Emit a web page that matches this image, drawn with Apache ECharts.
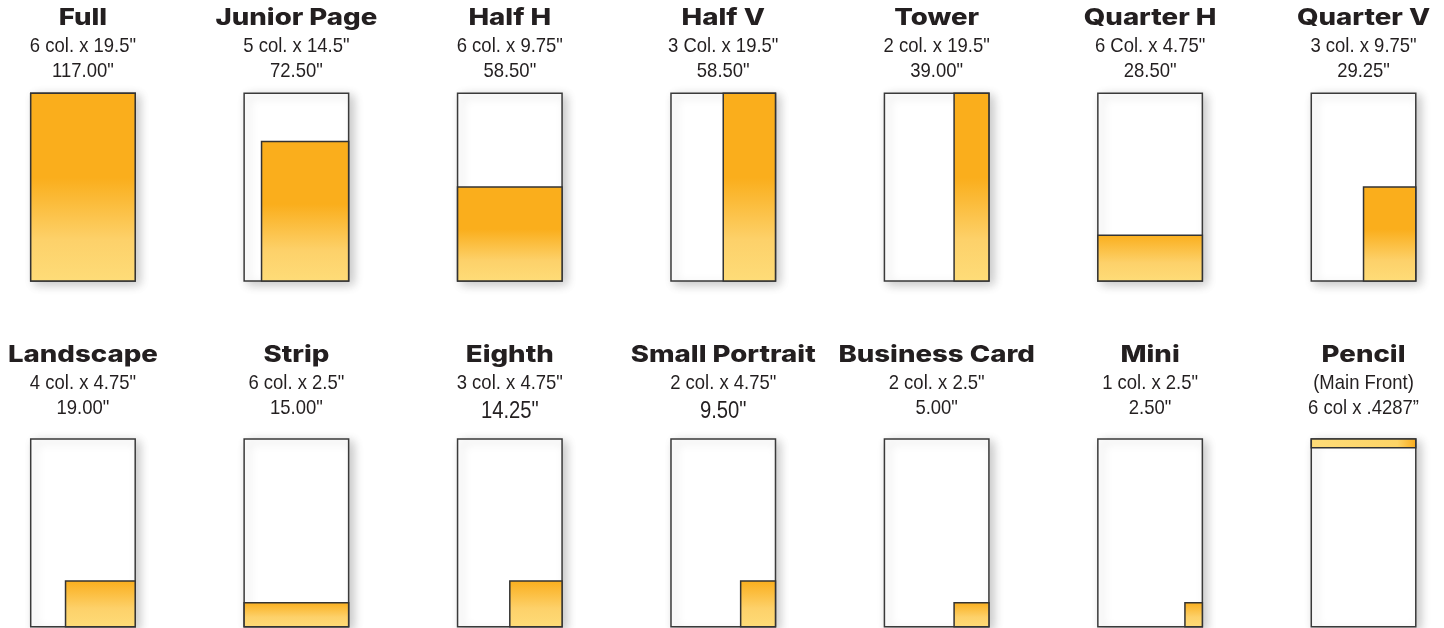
<!DOCTYPE html>
<html>
<head>
<meta charset="utf-8">
<script src="https://cdn.jsdelivr.net/npm/echarts@6/dist/echarts.min.js"></script>
<style>
  html, body { margin: 0; padding: 0; background: #fff; }
  #main { width: 1444px; height: 628px; }
</style>
</head>
<body>
<div id="main"></div>
<script>
'use strict';

// ad sizes
const names = ['Full', 'Junior Page', 'Half H', 'Half V', 'Tower', 'Quarter H', 'Quarter V',
  'Landscape', 'Strip', 'Eighth', 'Small Portrait', 'Business Card', 'Mini', 'Pencil'];
const sizeLines = ['6 col. x 19.5"', '5 col. x 14.5"', '6 col. x 9.75"', '3 Col. x 19.5"', '2 col. x 19.5"',
  '6 Col. x 4.75"', '3 col. x 9.75"', '4 col. x 4.75"', '6 col. x 2.5"', '3 col. x 4.75"',
  '2 col. x 4.75"', '2 col. x 2.5"', '1 col. x 2.5"', '(Main Front)'];
const totalLines = ['117.00"', '72.50"', '58.50"', '58.50"', '39.00"', '28.50"', '29.25"',
  '19.00"', '15.00"', '14.25"', '9.50"', '5.00"', '2.50"', '6 col x .4287\u201d'];
const cols = [6, 5, 6, 3, 2, 6, 3, 4, 6, 3, 2, 2, 1, 6];
// drawn depth in inches (pencil is drawn thicker than its .4287" so it shows)
const inches = [19.5, 14.5, 9.75, 19.5, 19.5, 4.75, 9.75, 4.75, 2.5, 4.75, 4.75, 2.5, 2.5, 0.9];
const anchors = ['bottom', 'bottom', 'bottom', 'bottom', 'bottom', 'bottom', 'bottom',
  'bottom', 'bottom', 'bottom', 'bottom', 'bottom', 'bottom', 'top'];

const pageCols = 6;
const pageInches = 19.5;

const chart = echarts.init(document.getElementById('main'));

const grids = [], xAxes = [], yAxes = [], series = [], texts = [];
const pageW = 104.5, pageH = 187.6, step = 213.43, left0 = 30.7;
const rowTop = [93.3, 439.1];
const textFont = '21px "Liberation Sans", Arial, sans-serif';
const bigTextFont = '23px "Liberation Sans", Arial, sans-serif';
const titleFont = '800 23px Inter, "Noto Sans", sans-serif';

function fillFor(i) {
  if (anchors[i] === 'top') {
    return new echarts.graphic.LinearGradient(0, 0, 1, 0, [
      { offset: 0, color: '#FEDC78' },
      { offset: 0.82, color: '#FDD466' },
      { offset: 1, color: '#F9AA1A' }
    ]);
  }
  const hold = inches[i] > 9 ? 0.45 : 0.0;
  return new echarts.graphic.LinearGradient(0, 0, 0, 1, [
    { offset: 0, color: '#FAAE1C' },
    { offset: hold, color: '#FAAE1C' },
    { offset: hold + (1 - hold) * 0.6, color: '#FDD16A' },
    { offset: 1, color: '#FEDC78' }
  ]);
}

names.forEach((name, i) => {
  const row = i < 7 ? 0 : 1;
  const col = i % 7;
  const left = left0 + col * step;
  const top = rowTop[row];
  const cx = left + pageW / 2;

  grids.push({
    left: left, top: top, width: pageW, height: pageH,
    show: true, backgroundColor: '#fff',
    borderColor: '#3a3a3a', borderWidth: 1.5,
    shadowBlur: 10, shadowColor: 'rgba(0,0,0,0.22)', shadowOffsetX: 4, shadowOffsetY: 3
  });
  xAxes.push({ type: 'value', gridIndex: i, min: 0, max: pageCols, show: false });
  yAxes.push({ type: 'value', gridIndex: i, min: 0, max: pageInches, show: false });

  const x0 = pageCols - cols[i];
  const y0 = anchors[i] === 'top' ? pageInches - inches[i] : 0;
  series.push({
    type: 'custom',
    xAxisIndex: i, yAxisIndex: i,
    silent: true,
    data: [[x0, y0, pageCols, y0 + inches[i]]],
    renderItem: (params, api) => {
      const a = api.coord([api.value(0), api.value(3)]);
      const b = api.coord([api.value(2), api.value(1)]);
      return {
        type: 'rect',
        shape: { x: a[0], y: a[1], width: b[0] - a[0], height: b[1] - a[1] },
        style: { fill: fillFor(i), stroke: '#333', lineWidth: 1.5 }
      };
    }
  });

  const tTop = row === 0 ? 18 : 355;
  // the sheet sets two of the totals a little larger than the rest
  const bigTotal = name === 'Eighth' || name === 'Small Portrait';
  texts.push({
    type: 'text', x: cx, y: tTop, scaleX: 1.2,
    style: {
      text: name, fill: '#231f20', align: 'center', verticalAlign: 'middle',
      font: titleFont
    }
  });
  texts.push({
    type: 'text', x: cx, y: tTop + 28, scaleX: 0.88,
    style: {
      text: sizeLines[i], fill: '#231f20', align: 'center', verticalAlign: 'middle',
      font: textFont
    }
  });
  texts.push({
    type: 'text', x: cx, y: tTop + (bigTotal ? 57 : 53), scaleX: 0.88,
    style: {
      text: totalLines[i], fill: '#231f20', align: 'center', verticalAlign: 'middle',
      font: bigTotal ? bigTextFont : textFont
    }
  });
});

chart.setOption({
  animation: false,
  backgroundColor: '#fff',
  grid: grids,
  xAxis: xAxes,
  yAxis: yAxes,
  series: series,
  graphic: texts
});
</script>
</body>
</html>
